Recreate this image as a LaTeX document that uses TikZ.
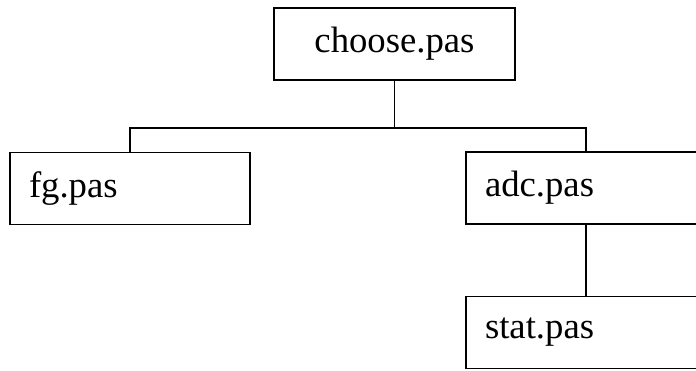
\documentclass[tikz,border=0pt]{standalone}
\usepackage{fontspec}
\setmainfont{Liberation Serif}
\begin{document}
\begin{tikzpicture}[x=1pt,y=-1pt,
  filebox/.style={draw=black, line width=1.5pt, minimum width=240pt, minimum height=72pt,
    inner xsep=19pt, inner ysep=0pt, text width=202pt, align=left,
    font=\fontsize{36.7}{40}\selectfont},
  rootbox/.style={filebox, align=center, minimum width=241pt},
  link/.style={draw=black, line width=1.5pt}]
\useasboundingbox (0,0) rectangle (696,371);
\clip (0,0) rectangle (696,371);
\fill[white] (0,0) rectangle (696,371);

% module boxes
\node[rootbox] (choose) at (394.5,44) {choose.pas};
\node[filebox] (fg)     at (130,188.5) {fg.pas};
\node[filebox] (adc)    at (586,188) {adc.pas};
\node[filebox] (stat)   at (586,332.5) {stat.pas};

% call tree
\coordinate (bus) at (394.5,128);
\draw[link] (choose.south) -- (bus);
\draw[link] (fg.north) |- (bus) -| (adc.north);
\draw[link] (adc.south) -- (stat.north);
\end{tikzpicture}
\end{document}
